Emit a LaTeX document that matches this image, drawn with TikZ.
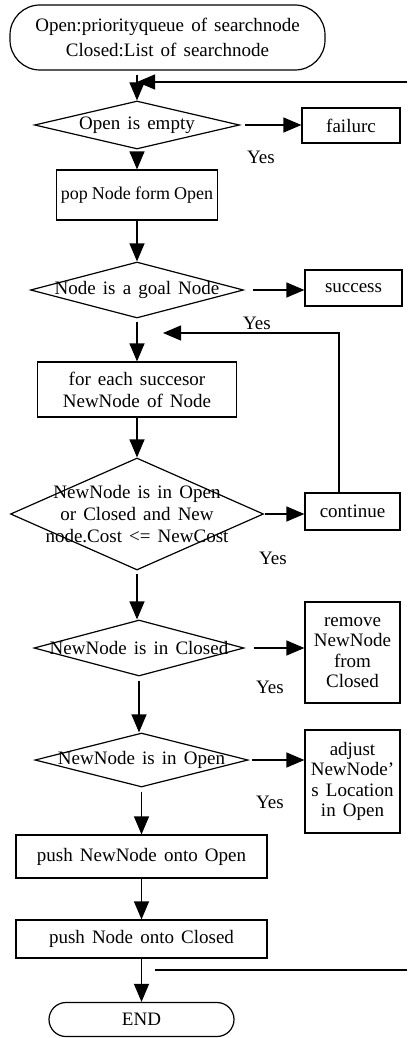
\documentclass[tikz,border=0pt]{standalone}
\usepackage{fontspec}
\setmainfont[WordSpace=1.5]{Liberation Serif}
\newfontfamily\tightfont[WordSpace=0.9]{Liberation Serif}
\usetikzlibrary{shapes.geometric,arrows.meta}
\begin{document}
\begin{tikzpicture}[x=1pt,y=-1pt,
  every node/.style={font=\fontsize{19}{22}\selectfont},
  box/.style={draw,line width=1.2pt,inner sep=0pt,align=center},
  dia/.style={draw,diamond,line width=1.2pt,inner sep=0pt},
  term/.style={draw,line width=1.2pt,rounded corners=#1,inner sep=0pt,align=center},
  arr/.style={line width=1.2pt,-{Triangle[length=18pt,width=15pt]}},
  ln/.style={line width=1.2pt},
  dtext/.style={align=center,inner sep=0pt},
  yes/.style={inner sep=0pt},
]
\useasboundingbox (0,0) rectangle (407,1038);
% nodes
\node[term=30pt,minimum width=315pt,minimum height=65pt,font=\fontsize{19}{25}\selectfont] (start) at (167.5,37.5) {Open:priorityqueue of searchnode\\Closed:List of searchnode};
\node[dia,minimum width=205pt,minimum height=48pt,label={[dtext]center:Open is empty}] (d1) at (137,125) {};
\node[box,minimum width=98pt,minimum height=35pt] (fail) at (351,125.5) {failurc};
\node[box,minimum width=161pt,minimum height=50pt,font=\tightfont\fontsize{18}{22}\selectfont] (pop) at (137,195) {pop Node form Open};
\node[dia,minimum width=213pt,minimum height=56pt,label={[dtext]center:Node is a goal Node}] (d2) at (137,290) {};
\node[box,minimum width=97pt,minimum height=36pt] (succ) at (353.5,288) {success};
\node[box,minimum width=199pt,minimum height=55pt] (each) at (137,389.5) {for each succesor\\NewNode of Node};
\node[dia,minimum width=253pt,minimum height=112pt,label={[dtext]center:NewNode is in Open\\or Closed and New\\node.Cost <= NewCost}] (d3) at (137,514) {};
\node[box,minimum width=95pt,minimum height=37pt] (cont) at (352.5,511.5) {continue};
\node[dia,minimum width=210pt,minimum height=56pt,label={[dtext]center:NewNode is in Closed}] (d4) at (139,648) {};
\node[box,minimum width=95pt,minimum height=101pt,font=\fontsize{19}{20.5}\selectfont] (rem) at (352.5,652.5) {remove\\NewNode\\from\\Closed};
\node[dia,minimum width=213pt,minimum height=54pt,label={[dtext]center:NewNode is in Open}] (d5) at (141.5,760) {};
\node[box,minimum width=95pt,minimum height=103pt,font=\fontsize{19}{20.5}\selectfont] (adj) at (352.5,781.5) {adjust\\NewNode’\\s Location\\in Open};
\node[box,minimum width=251pt,minimum height=43pt] (pusho) at (141.5,856.5) {push NewNode onto Open};
\node[box,minimum width=251pt,minimum height=38pt] (pushc) at (141.5,939) {push Node onto Closed};
\node[term=17pt,minimum width=185pt,minimum height=34pt] (endn) at (141.5,1019.5) {END};
% labels
\node[yes] (y1) at (261,157) {Yes};
\node[yes] (y2) at (257,323) {Yes};
\node[yes] (y3) at (273,558) {Yes};
\node[yes] (y4) at (270,687) {Yes};
\node[yes] (y5) at (270,802) {Yes};
% coordinates
\coordinate (rtop) at (407,82);
\coordinate (lp) at (339,333);
\coordinate (lpend) at (163,333);
\coordinate (b1) at (155,970);
\coordinate (b2) at (407,970);
% connectors
\draw[arr] (rtop) -- (rtop -| d1.north);
\draw[arr,shorten <=4pt] (start.south -| d1.north) -- (d1.north);
\draw[arr,shorten <=5pt] (d1.east) -- (d1.east -| fail.west);
\draw[arr,shorten <=6pt] (d1.south) -- (pop.north);
\draw[arr] (pop.south) -- (d2.north);
\draw[arr,shorten <=9pt] (d2.east) -- (d2.east -| succ.west);
\draw[arr,shorten <=3pt] (d2.south) -- (each.north);
\draw[arr] (each.south) -- (d3.north);
\draw[arr,shorten <=1pt] (d3.east) -- (d3.east -| cont.west);
\draw[arr] (cont.north -| lp) -- (lp) -- (lpend);
\draw[arr,shorten <=3pt] (d3.south) -- (d3.south |- d4.north);
\draw[arr,shorten <=9pt] (d4.east) -- (d4.east -| rem.west);
\draw[arr,shorten <=4pt] (d4.south) -- (d4.south |- d5.north);
\draw[arr,shorten <=3pt] (d5.east) -- (d5.east -| adj.west);
\draw[arr,shorten <=4pt] (d5.south) -- (pusho.north);
\draw[arr] (pusho.south) -- (pushc.north);
\draw[arr] (pushc.south) -- (endn.north);
\draw[ln] (b1) -- (b2);
\end{tikzpicture}
\end{document}
